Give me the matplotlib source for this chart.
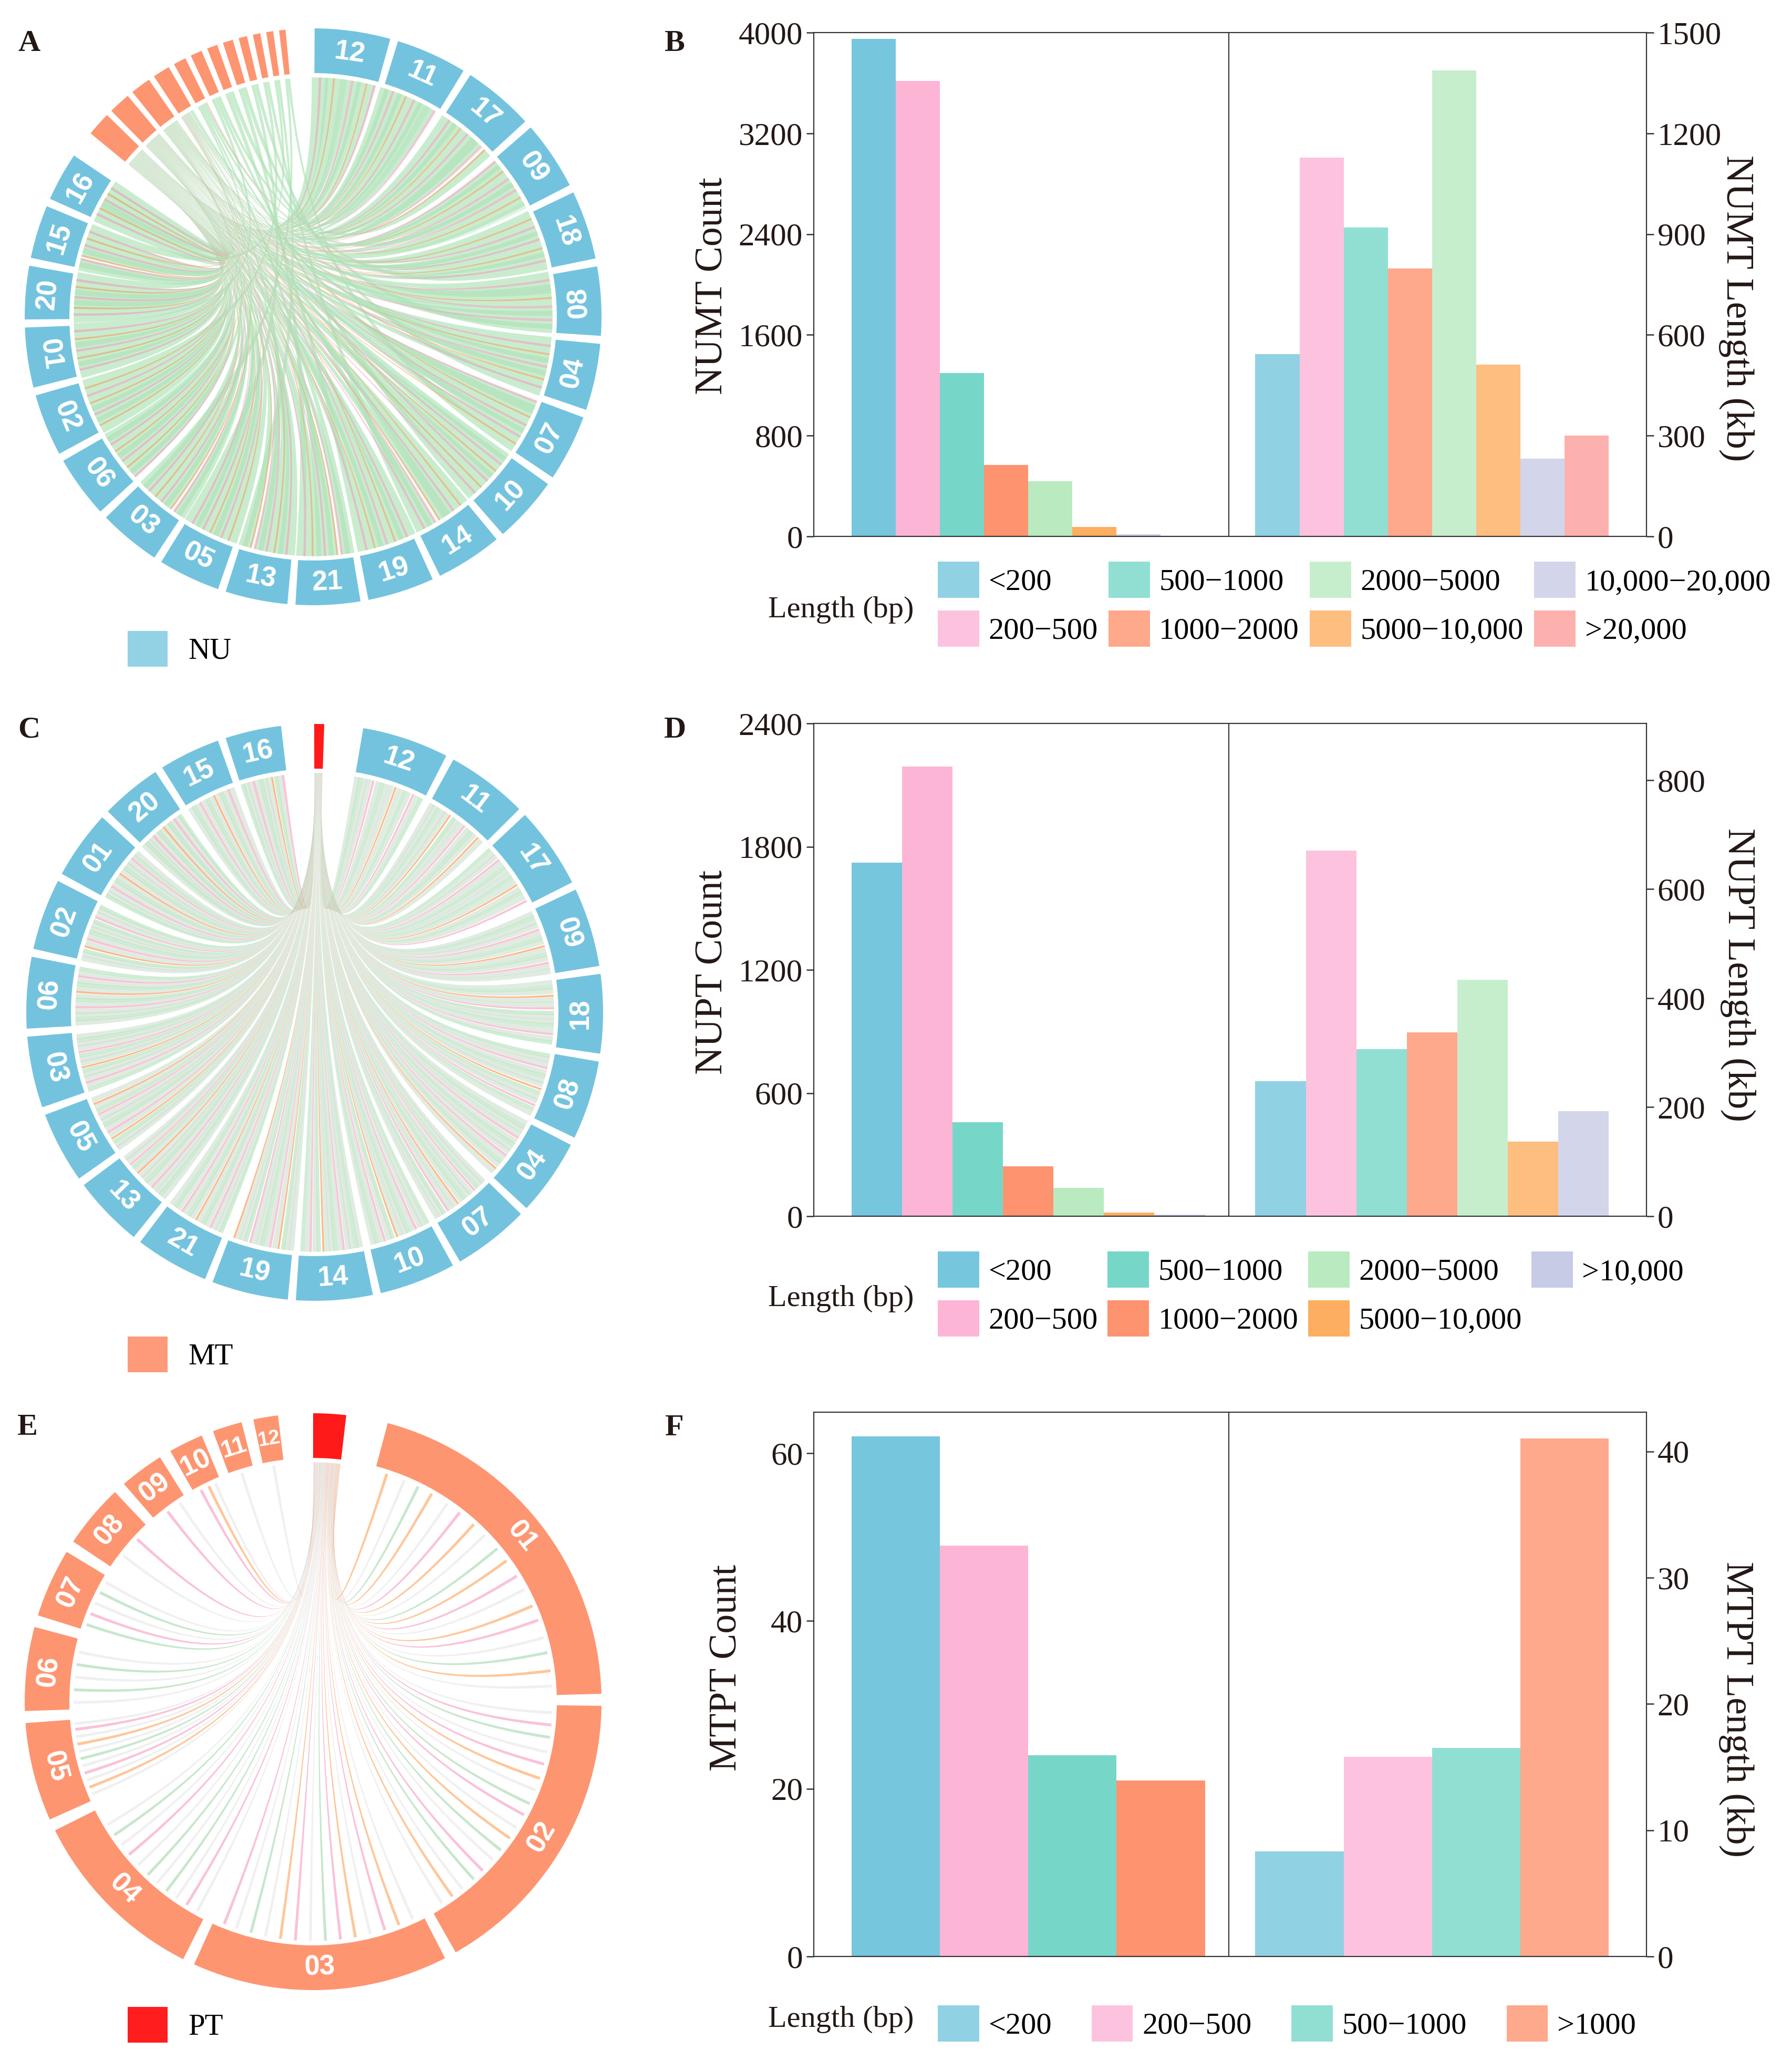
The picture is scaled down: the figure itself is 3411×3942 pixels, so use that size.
import numpy as np
import matplotlib
matplotlib.use('Agg')
import matplotlib.pyplot as plt
from matplotlib.path import Path
from matplotlib.patches import PathPatch, Wedge, Patch

plt.rcParams['font.family'] = ['Liberation Serif', 'DejaVu Serif']

W, H = 3411, 3942
fig = plt.figure(figsize=(W / 100, H / 100), dpi=100)

# ---------------- data ----------------
nu_chroms = ['12', '11', '17', '09', '18', '08', '04', '07', '10', '14', '19',
             '21', '13', '05', '03', '06', '02', '01', '20', '15', '16']
nu_sizes = [17, 16, 16, 15.5, 15.5, 15.5, 15, 15, 15, 15, 15,
            14.5, 14, 14, 14, 14, 14, 13.5, 12, 12, 11]
mt_chroms = ['01', '02', '03', '04', '05', '06', '07', '08', '09', '10', '11', '12']
mt_sizes = [74, 60, 52, 37, 20, 17, 14, 13, 9, 7, 6, 5]

# NU-MT links: position(%) + colour + MT source (1..c)
A_LINKS = {
    '12': '03g1 09p2 15g1 24g3 31o1 38g2 46l4 52g1 60p3 67g2 75g1 83o5 90g1 96p2',
    '11': '02g2 10g1 17p1 25g3 33g1 40o2 48g4 55p1 63g1 71g2 79l3 86g1 94p5',
    '17': '05g1 12p1 20g2 27g1 35o3 43g1 50p2 58g4 66g1 73g2 81p1 89o3 95g6',
    '09': '04p1 11g1 19g2 26o1 34g3 42p1 50g1 57g5 65p2 73g1 80o2 88g1 95l4',
    '18': '03g1 10o1 18g2 25p3 33g1 41g2 48p1 56g4 64o1 71g3 79g1 86p2 94g7',
    '08': '02g2 09p1 17g1 24g3 32g1 40o2 47g1 55p4 63g2 70g1 78p1 86g3 93g8',
    '04': '04g1 12p2 19g1 27o1 35g3 42g2 50p1 58g1 65g4 73o2 81g1 88p3 95g9',
    '07': '03p1 10g1 18g2 26g1 33o3 41g1 49p2 56g1 64g5 72p1 79g2 87o1 94gc',
    '10': '05g2 12g1 20p1 28g3 35o1 43g2 51g1 58p4 66g1 74o2 81g3 89p1 96g6',
    '14': '04g1 11o2 19g1 27p1 34g2 42g3 50g1 57o1 65p2 73g1 80g4 88p1 95ga',
    '19': '02g1 10p1 17g2 25g1 33o4 40g1 48p3 56g1 63g2 71o1 79g1 86p2 94g7',
    '21': '05g3 12g1 20p2 28o1 35g1 43g2 51p1 58g5 66g1 74o3 81g1 89p1 96g8',
    '13': '03g1 11p1 18g2 26g1 34o2 41g3 49p1 57g1 64g4 72p2 80o1 87g1 95gb',
    '05': '04g2 12o1 19g1 27p3 35g1 42g2 50o1 58g1 65p4 73g1 81g2 88p1 96g9',
    '03': '02g1 10g2 17p1 25o3 33g1 40g1 48p2 56g4 63o1 71g1 79p3 86g2 94gc',
    '06': '05p1 12g1 20g3 28o2 35g1 43p1 51g2 58g1 66o4 74g1 81p2 89g1 96g3',
    '02': '03g1 11o1 18g2 26g1 34p3 41g1 49g2 57o1 64g1 72p4 80g1 87o2 95ga',
    '01': '04g2 12p1 19g1 27g3 35o1 42g1 50p2 58g1 65g4 73o1 81g2 89p1 96g6',
    '20': '02g1 10p2 18g1 25o1 33g3 41g1 49p1 56g2 64g1 72o3 80g1 87p1 95g5',
    '15': '04g1 12g2 20p1 28o1 36g3 44g1 52p2 60g1 68o4 76g1 84p1 92gb',
    '16': '05g1 13p1 21g2 29o1 37g1 45g3 53p2 61g1 69o1 77g2 85p1 93g1',
}

# NU-PT links: position(%) + colour
C_LINKS = {
    '12': '03w 08l 14w 20w 26p 33w 39l 45w 52w 58o 64w 71l 77w 84p 90w 96l',
    '11': '04w 10w 16l 23w 29w 35o 42l 48w 55w 61p 68w 74l 80w 87o 93w',
    '17': '02l 09w 15w 22p 28w 35l 41w 48w 54l 61w 67o 74w 80l 87w 94p',
    '09': '05w 11l 18w 24w 31p 37w 44l 50w 57o 63w 70l 76w 83p 89w 96w',
    '18': '03w 10l 16w 23o 29w 36w 42p 49l 55w 62w 68l 75w 81p 88w 94l',
    '08': '04l 10w 17w 23p 30w 36l 43w 49w 56o 62l 69w 75w 82p 88l 95w',
    '04': '02w 09l 15w 22w 28p 35w 41l 48w 54w 61p 67w 74l 80w 87o 93w',
    '07': '05w 11w 18l 24p 31w 37w 44l 50w 57o 63w 70w 76p 83l 89w 96w',
    '10': '03l 10w 16w 23p 29w 36l 42w 49w 55o 62l 68w 75p 81w 88l 94w',
    '14': '04w 10l 17w 23w 30p 36w 43l 49w 56w 62o 69l 75w 82p 88w 95l',
    '19': '02w 09w 15l 22o 28w 35p 41w 48l 54w 61w 67p 74l 80w 87w 93o',
    '21': '05l 11w 18w 24p 31w 37l 44w 50o 57w 63l 70w 76p 83w 89l 96w',
    '13': '03w 10l 16w 23w 29p 36w 42l 49w 55w 62o 68w 75l 81p 88w 94w',
    '05': '04w 10w 17l 23o 30w 36p 43w 49l 56w 62w 69p 75l 82w 88o 95w',
    '03': '02l 09w 15p 22w 28w 35l 41o 48w 54w 61l 67p 74w 80w 87l 93w',
    '06': '05w 11l 18w 24w 31p 37w 44l 50w 57o 63w 70l 76w 83p 89w 96l',
    '02': '03w 10w 16l 23o 29w 36p 42w 49l 55w 62w 68l 75p 81w 88w 94l',
    '01': '04l 10w 17w 23p 30w 36l 43w 49o 56w 62l 69w 75w 82p 88l 95w',
    '20': '02w 09l 15w 22w 28p 35w 41l 48w 54o 61w 67l 74w 80p 87w 93l',
    '15': '05w 12l 20w 27p 35w 42l 50w 57o 65w 72l 80w 87p 94w',
    '16': '04l 12w 20w 28p 36w 44l 52w 60w 68o 76l 84w 92p',
}

# MT-PT links: position(%) + colour
E_LINKS = {
    '01': '04o 10w 15g 20o 26w 31p 37o 42w 48g 53o 59p 64w 70o 75p 81w 86g 92o 97w',
    '02': '03w 08p 13g 19w 24p 30o 35w 41g 46p 52w 57o 63g 68w 74p 79g 85w 90o 95w',
    '03': '05w 12o 19p 26w 33o 40p 47g 54w 61p 68o 75w 82g 89w 95p',
    '04': '06w 14p 22w 30g 38w 46g 55w 64p 72w 80g 88w',
    '05': '07w 16o 25w 34p 43w 52g 61w 70o 79w 88p 95w',
    '06': '10w 28g 46w 64g 82w',
    '07': '10g 30p 50w 70g 90w',
    '08': '30w 70p',
    '09': '40p 80w',
    '10': '25p 55o 80w',
    '11': '50w',
    '12': '50w',
}

len_bins_b = ['<200', '200\u2212500', '500\u22121000', '1000\u22122000', '2000\u22125000',
              '5000\u221210,000', '10,000\u221220,000', '>20,000']
numt_count = [3950, 3615, 1298, 566, 439, 75, 15, 4]
numt_length = [543, 1128, 919, 798, 1388, 512, 232, 301]

len_bins_d = ['<200', '200\u2212500', '500\u22121000', '1000\u22122000', '2000\u22125000',
              '5000\u221210,000', '>10,000']
nupt_count = [1722, 2189, 457, 244, 139, 19, 8]
nupt_length = [248, 671, 306, 337, 434, 137, 193]

len_bins_f = ['<200', '200\u2212500', '500\u22121000', '>1000']
mtpt_count = [62, 49, 24, 21]
mtpt_length = [8.3, 15.8, 16.5, 41.0]

bin_colors = {'<200': '#76C6DE', '200\u2212500': '#FDB5D6', '500\u22121000': '#76D7C9',
              '1000\u22122000': '#FE9370', '2000\u22125000': '#B9EAC0',
              '5000\u221210,000': '#FDAE61', '10,000\u221220,000': '#C8CBE6',
              '>20,000': '#FC9E9A', '>10,000': '#C8CBE6', '>1000': '#FE9370'}

NU_COLOR = '#74C3DE'
MT_COLOR = '#FE9571'
PT_COLOR = '#FF1A1A'
TXT = '#231815'


# ---------------- circos helpers ----------------
def place(sizes, start, end, gap):
    sizes = np.asarray(sizes, float)
    scale = (end - start - gap * (len(sizes) - 1)) / sizes.sum()
    spans, a = [], start
    for s in sizes:
        spans.append((a, a + s * scale))
        a += s * scale + gap
    return spans


def xy(r, a):
    t = np.radians(a)
    return (r * np.sin(t), r * np.cos(t))


def ring(ax, spans, names, color, labels=True):
    for (a1, a2), nm in zip(spans, names):
        ax.add_patch(Wedge((0, 0), 1.0, 90 - a2, 90 - a1, width=0.155,
                           facecolor=color, edgecolor='none', zorder=3))
        if labels:
            m = (a1 + a2) / 2
            rot = 180 - m if 85 <= m < 265 else -m
            fs = min(38, (a2 - a1) * 5.6)
            x, y = xy(0.922, m)
            ax.text(x, y, nm, rotation=rot, rotation_mode='anchor', ha='center',
                    va='center', color='white', fontsize=fs, fontweight='bold',
                    family=['Liberation Sans', 'DejaVu Sans'], zorder=4)


def ribbon(ax, s1, s2, t1, t2, color, alpha, k, r=0.83):
    # cubic bezier edges, control points pulled towards the centre by k
    def ctrl(a):
        x, y = xy(r, a)
        return (k * x, k * y)
    verts, codes = [], []
    for i, a in enumerate(np.linspace(s1, s2, 6)):
        verts.append(xy(r, a))
        codes.append(Path.MOVETO if i == 0 else Path.LINETO)
    verts += [ctrl(s2), ctrl(t1), xy(r, t1)]
    codes += [Path.CURVE4] * 3
    for a in np.linspace(t1, t2, 6)[1:]:
        verts.append(xy(r, a))
        codes.append(Path.LINETO)
    verts += [ctrl(t2), ctrl(s1), xy(r, s1), xy(r, s1)]
    codes += [Path.CURVE4] * 3 + [Path.CLOSEPOLY]
    ax.add_patch(PathPatch(Path(verts, codes), facecolor=color, edgecolor='none',
                           alpha=alpha, zorder=2))


def links(ax, src_spans, tgt_spans, items, style, order, k):
    # items: (src index, tgt index, fraction, colour code)
    drawn = []
    for s in range(len(src_spans)):
        sub = [it for it in items if it[0] == s]
        if not sub:
            continue
        a1, a2 = src_spans[s]
        sc = (a1 + a2) / 2
        tc, ws = [], []
        for it in sub:
            b1, b2 = tgt_spans[it[1]]
            tc.append(b1 + it[2] * (b2 - b1))
            ws.append(style[it[3]][2])
        d = [(t - sc) % 360 for t in tc]
        unit = (a2 - a1) / sum(ws)
        hi = a2
        for j in np.argsort(d):
            c = sub[j][3]
            w = ws[j]
            drawn.append((order.index(c), hi - w * unit, hi, tc[j] - w / 2, tc[j] + w / 2, c))
            hi -= w * unit
    drawn.sort(key=lambda v: v[0])
    for _, s1, s2, t1, t2, c in drawn:
        ribbon(ax, s1, s2, t1, t2, style[c][0], style[c][1], k)


def circ_axes(cx, cy, R=549):
    half = 1.1 * R
    ax = fig.add_axes([(cx - half) / W, 1 - (cy + half) / H, 2 * half / W, 2 * half / H])
    ax.set_xlim(-1.1, 1.1)
    ax.set_ylim(-1.1, 1.1)
    ax.set_aspect('equal')
    ax.axis('off')
    return ax


def parse(tok):
    return int(tok[:2]) / 100.0, tok[2], tok[3:]


# ---------------- panel A ----------------
axA = circ_axes(596, 603)
nu_a = place(nu_sizes, 0.3, 304, 1.6)
mt_a = place(np.sqrt(mt_sizes), 309.5, 354.5, 1.2)
src_key = '123456789abc'
items = []
for ci, nm in enumerate(nu_chroms):
    for tok in A_LINKS[nm].split():
        f, c, s = parse(tok)
        items.append((src_key.index(s), ci, f, c))
styleA = {'l': ('#CDEFD2', 0.65, 1.7), 'g': ('#B0E3B9', 0.68, 2.2),
          'p': ('#F9A1C3', 0.55, 0.6), 'o': ('#FC9F5E', 0.55, 0.45)}
links(axA, mt_a, nu_a, items, styleA, ['l', 'g', 'p', 'o'], 0.25)
ring(axA, nu_a, nu_chroms, NU_COLOR)
ring(axA, mt_a, mt_chroms, MT_COLOR, labels=False)

# ---------------- panel C ----------------
axC = circ_axes(599, 1927)
nu_c = place(nu_sizes, 9.7, 353.3, 1.6)
pt_c = [(-0.1, 1.9)]
items = []
for ci, nm in enumerate(nu_chroms):
    for tok in C_LINKS[nm].split():
        f, c, _ = parse(tok)
        items.append((0, ci, f, c))
styleC = {'w': ('#CCDFCD', 0.6, 1.3), 'l': ('#B8E4BF', 0.65, 1.0),
          'p': ('#F8A4C2', 0.65, 0.55), 'o': ('#FCA160', 0.75, 0.45)}
links(axC, pt_c, nu_c, items, styleC, ['w', 'l', 'p', 'o'], 0.25)
ring(axC, nu_c, nu_chroms, NU_COLOR)
ring(axC, pt_c, ['PT'], PT_COLOR, labels=False)

# ---------------- panel E ----------------
axE = circ_axes(596, 3239)
mt_e = place(mt_sizes, 15, 353, 2.4)
pt_e = [(0.0, 6.6)]
items = []
for ci, nm in enumerate(mt_chroms):
    for tok in E_LINKS[nm].split():
        f, c, _ = parse(tok)
        items.append((0, ci, f, c))
styleE = {'w': ('#D5D5D5', 0.35, 0.7), 'g': ('#B0DDB7', 0.7, 0.7),
          'p': ('#F7A9C8', 0.7, 0.7), 'o': ('#FDB57A', 0.75, 0.7),
          'r': ('#F6A09E', 0.7, 0.7)}
links(axE, pt_e, mt_e, items, styleE, ['w', 'g', 'p', 'r', 'o'], 0.25)
ring(axE, mt_e, mt_chroms, MT_COLOR)
ring(axE, pt_e, ['PT'], PT_COLOR, labels=False)

# circos legends
for name, col, top in [('NU', '#93D1E4', 1201), ('MT', '#FE9A7A', 2544), ('PT', '#FF1D1D', 3820)]:
    fig.legend(handles=[Patch(facecolor=col, edgecolor='none')], labels=[name],
               loc='upper left', bbox_to_anchor=(243 / W, 1 - top / H), frameon=False,
               fontsize=41, handlelength=1.33, handleheight=1.45, handletextpad=0.7,
               borderpad=0, borderaxespad=0)


# ---------------- bar panels ----------------
def bar_panel(top, bottom, bins, counts, lengths, lims, ticks, labels, lab_pos,
              leg_top, leg_alpha, colspace, title_dy):
    left, right = 1549, 3134
    ax = fig.add_axes([left / W, 1 - bottom / H, (right - left) / W, (bottom - top) / H])
    ax2 = ax.twinx()
    n = len(bins)
    bw = 0.849 / n
    cols = [bin_colors[b] for b in bins]
    xl = 0.515 - 0.849 / 2 + bw * (np.arange(n) + 0.5)
    xr = 1.485 - 0.849 / 2 + bw * (np.arange(n) + 0.5)
    ax.bar(xl, counts, width=bw, color=cols, edgecolor='none')
    ax2.bar(xr, lengths, width=bw, color=cols, alpha=0.8, edgecolor='none')
    ax.set_xlim(0, 2)
    ax.set_ylim(0, lims[0])
    ax2.set_ylim(0, lims[1])
    ax.set_yticks(ticks[0])
    ax2.set_yticks(ticks[1])
    ax.set_xticks([])
    ax.axvline(0.997, color='#333333', lw=1.5)
    for a in (ax, ax2):
        for sp in a.spines.values():
            sp.set_color('#333333')
            sp.set_linewidth(1.5)
        a.tick_params(axis='y', direction='out', length=10, width=1.8, pad=5,
                      labelsize=44, labelcolor=TXT, color='#333333')
    ax.text(lab_pos[0], lab_pos[1], labels[0], transform=ax.transAxes, rotation=90,
            ha='center', va='center', fontsize=53, color=TXT)
    ax.text(lab_pos[2], lab_pos[3], labels[1], transform=ax.transAxes, rotation=-90,
            ha='center', va='center', fontsize=53, color=TXT)
    handles = [Patch(facecolor=c, edgecolor='none', alpha=leg_alpha) for c in cols]
    fig.legend(handles, bins, ncol=4, loc='upper left',
               bbox_to_anchor=(1785 / W, 1 - leg_top / H), frameon=False, fontsize=42,
               handlelength=1.35, handleheight=1.45, handletextpad=0.3,
               columnspacing=colspace, labelspacing=0.4, borderpad=0, borderaxespad=0)
    fig.text(1462 / W, 1 - (leg_top + title_dy) / H, 'Length (bp)', ha='left',
             va='center', fontsize=42, color=TXT)


bar_panel(62, 1021, len_bins_b, numt_count, numt_length, (4000, 1500),
          (np.arange(0, 4001, 800), np.arange(0, 1501, 300)),
          ('NUMT Count', 'NUMT Length (kb)'), (-0.121, 0.497, 1.108, 0.453),
          1069, 0.8, 0.35, 92)
bar_panel(1377, 2315, len_bins_d, nupt_count, nupt_length, (2400, 904),
          (np.arange(0, 2401, 600), np.arange(0, 801, 200)),
          ('NUPT Count', 'NUPT Length (kb)'), (-0.121, 0.495, 1.11, 0.49),
          2382, 1.0, 0.32, 90)
bar_panel(2688, 3724, len_bins_f, mtpt_count, mtpt_length, (64.9, 43.1),
          (np.arange(0, 61, 20), np.arange(0, 41, 10)),
          ('MTPT Count', 'MTPT Length (kb)'), (-0.104, 0.531, 1.108, 0.454),
          3817, 0.8, 1.3, 27)

# panel letters
for letter, x, y in [('A', 34, 83), ('B', 1264, 83), ('C', 34, 1390),
                     ('D', 1264, 1390), ('E', 33, 2717), ('F', 1266, 2718)]:
    fig.text(x / W, 1 - y / H, letter, ha='left', va='center', fontsize=42,
             fontweight='bold', color=TXT)

fig.savefig('out.png', dpi=100, facecolor='white')
